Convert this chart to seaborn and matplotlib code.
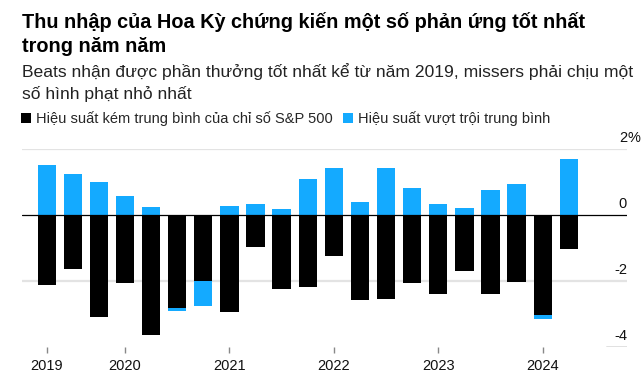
import pandas as pd
import seaborn as sns
import matplotlib.pyplot as plt
from matplotlib.transforms import ScaledTranslation

# quarterly average price reaction (%) for beats and misses
quarters = ["Q2 2019", "Q3 2019", "Q4 2019",
            "Q1 2020", "Q2 2020", "Q3 2020", "Q4 2020",
            "Q1 2021", "Q2 2021", "Q3 2021", "Q4 2021",
            "Q1 2022", "Q2 2022", "Q3 2022", "Q4 2022",
            "Q1 2023", "Q2 2023", "Q3 2023", "Q4 2023",
            "Q1 2024", "Q2 2024"]
beat = [1.52, 1.23, 0.99, 0.59, 0.24, -2.90, -2.75, 0.27, 0.32, 0.17, 1.08,
        1.41, 0.38, 1.42, 0.81, 0.34, 0.21, 0.76, 0.93, -3.16, 1.69]
miss = [-2.12, -1.65, -3.08, -2.06, -3.64, -2.83, -2.00, -2.94, -0.96, -2.25, -2.18,
        -1.24, -2.58, -2.54, -2.06, -2.40, -1.71, -2.39, -2.02, -3.03, -1.04]

year_starts = ["Q2 2019", "Q1 2020", "Q1 2021", "Q1 2022", "Q1 2023", "Q1 2024"]
year_labels = ["2019", "2020", "2021", "2022", "2023", "2024"]
y_ticks = [-4, -2, 0, 2]
y_labels = ["-4", "-2", "0", "2"]

title_lines = ["Thu nhập của Hoa Kỳ chứng kiến một số phản ứng tốt nhất",
               "trong năm năm"]
subtitle_lines = ["Beats nhận được phần thưởng tốt nhất kể từ năm 2019, missers phải chịu một",
                  "số hình phạt nhỏ nhất"]
miss_label = "Hiệu suất kém trung bình của chỉ số S&P 500"
beat_label = "Hiệu suất vượt trội trung bình"

BLUE = "#14aaff"
BLACK = "#000000"

df = pd.DataFrame({"quarter": quarters, "beat": beat, "miss": miss})

sns.set_theme(style="white")
plt.rcParams["font.family"] = ["Liberation Sans", "DejaVu Sans"]

fig = plt.figure(figsize=(6.41, 3.84), dpi=100)
ax = fig.add_axes([22 / 641, 1 - 347 / 384, 605 / 641, 198 / 384])

# gridlines behind bars
for v in [2, -2]:
    ax.axhline(v, color="#e3e3e3", lw=1.6, zorder=0)
ax.axhline(-4, xmin=0.966, xmax=1.0, color="#666666", lw=1.0, zorder=0)

sns.barplot(data=df, x="quarter", y="beat", color=BLUE, width=0.7,
            saturation=1, linewidth=0, errorbar=None, ax=ax, zorder=2)
sns.barplot(data=df, x="quarter", y="miss", color=BLACK, width=0.7,
            saturation=1, linewidth=0, errorbar=None, ax=ax, zorder=3)
ax.axhline(0, color="black", lw=0.9, zorder=4)

ax.set_xlim(-0.946, 22.23)
ax.set_ylim(-4, 2)
ax.set_xlabel("")
ax.set_ylabel("")
for s in ax.spines.values():
    s.set_visible(False)

# x axis: year ticks
ax.set_xticks([quarters.index(q) for q in year_starts])
ax.set_xticklabels(year_labels, fontsize=10.5, color="#111111")
ax.tick_params(axis="x", bottom=True, direction="out", length=4, width=1,
               color="#888888", pad=5)

# y axis: labels on the right, inside, above the lines
ax.yaxis.tick_right()
ax.set_yticks(y_ticks)
ax.set_yticklabels(y_labels, fontsize=10.5, color="#111111")
ax.tick_params(axis="y", right=False, length=0, pad=0)
up = ScaledTranslation(0, 7 / 100, fig.dpi_scale_trans)
for lab in ax.get_yticklabels():
    lab.set_horizontalalignment("right")
    lab.set_verticalalignment("baseline")
    lab.set_transform(lab.get_transform() + up)
ax.text(1.0, 2, "%", transform=ax.get_yaxis_transform() + up, ha="left",
        va="baseline", fontsize=10.5, color="#111111")

# titles
for line, base in zip(title_lines, [28.5, 52.5]):
    fig.text(22 / 641, 1 - base / 384, line, fontsize=14.3, fontweight="bold",
             color="black", va="baseline", ha="left")
for line, base in zip(subtitle_lines, [77.5, 99.5]):
    fig.text(22 / 641, 1 - base / 384, line, fontsize=12.6, color="#222222",
             va="baseline", ha="left")

# legend
handles = [ax.containers[1], ax.containers[0]]
ax.legend(handles, [miss_label, beat_label], ncol=2, loc="center left",
          bbox_to_anchor=(21 / 641, 1 - 119 / 384), bbox_transform=fig.transFigure,
          frameon=False, fontsize=10.5, handlelength=0.7, handleheight=0.7,
          handletextpad=0.3, columnspacing=0.75, borderpad=0, borderaxespad=0)

fig.savefig("out.png", dpi=100)
